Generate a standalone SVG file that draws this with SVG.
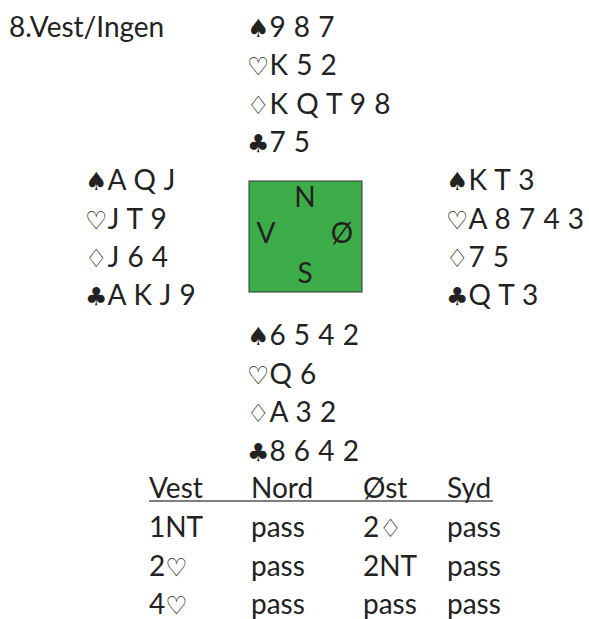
<svg xmlns="http://www.w3.org/2000/svg" width="589" height="619" viewBox="0 0 589 619">
<style>
text{font-family:Lato,"Open Sans","DejaVu Sans",sans-serif;font-size:28px;fill:#222;word-spacing:1px}
.s{font-family:"DejaVu Sans",sans-serif;font-size:25px}
.c{text-anchor:middle}
</style>
<rect width="589" height="619" fill="#fff"/>
<text x="9" y="37" style="word-spacing:0">8.Vest/Ingen</text>
<g id="north">
<text x="247" y="37"><tspan class="s">♠</tspan>9 8 7</text>
<text x="247" y="75"><tspan class="s">♡</tspan>K 5 2</text>
<text x="247" y="114"><tspan class="s">♢</tspan>K Q T 9 8</text>
<text x="247" y="152"><tspan class="s">♣</tspan>7 5</text>
</g>
<g id="west">
<text x="85" y="190"><tspan class="s">♠</tspan>A Q J</text>
<text x="85" y="229"><tspan class="s">♡</tspan>J T 9</text>
<text x="85" y="267"><tspan class="s">♢</tspan>J 6 4</text>
<text x="85" y="305"><tspan class="s">♣</tspan>A K J 9</text>
</g>
<g id="table">
<rect x="249" y="181" width="113" height="111" fill="#3dad49" stroke="#333" stroke-width="1"/>
<text class="c" x="305" y="207">N</text>
<text class="c" x="266" y="243">V</text>
<text class="c" x="342" y="243">Ø</text>
<text class="c" x="305" y="283">S</text>
</g>
<g id="east">
<text x="446" y="190"><tspan class="s">♠</tspan>K T 3</text>
<text x="446" y="229"><tspan class="s">♡</tspan>A 8 7 4 3</text>
<text x="446" y="267"><tspan class="s">♢</tspan>7 5</text>
<text x="446" y="305"><tspan class="s">♣</tspan>Q T 3</text>
</g>
<g id="south">
<text x="247" y="345"><tspan class="s">♠</tspan>6 5 4 2</text>
<text x="247" y="384"><tspan class="s">♡</tspan>Q 6</text>
<text x="247" y="422"><tspan class="s">♢</tspan>A 3 2</text>
<text x="247" y="461"><tspan class="s">♣</tspan>8 6 4 2</text>
</g>
<g id="auction">
<line x1="149" y1="501" x2="493" y2="501" stroke="#555" stroke-width="1.5"/>
<text x="149" y="498">Vest</text>
<text x="251" y="498">Nord</text>
<text x="363" y="498">Øst</text>
<text x="447" y="498">Syd</text>
<text x="149" y="537">1NT</text>
<text x="251" y="537">pass</text>
<text x="363" y="537">2<tspan class="s">♢</tspan></text>
<text x="447" y="537">pass</text>
<text x="149" y="576">2<tspan class="s">♡</tspan></text>
<text x="251" y="576">pass</text>
<text x="363" y="576">2NT</text>
<text x="447" y="576">pass</text>
<text x="149" y="614">4<tspan class="s">♡</tspan></text>
<text x="251" y="614">pass</text>
<text x="363" y="614">pass</text>
<text x="447" y="614">pass</text>
</g>
</svg>
